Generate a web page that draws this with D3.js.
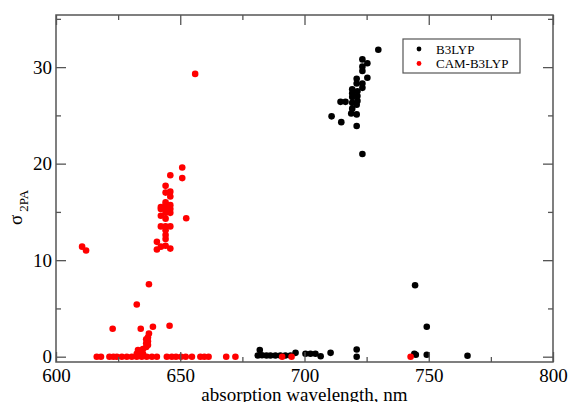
<!DOCTYPE html>
<html>
<head>
<meta charset="utf-8">
<script src="https://cdn.jsdelivr.net/npm/d3@7"></script>
<style>
  body { margin: 0; background: #fff; }
  text { font-family: "Liberation Serif", "DejaVu Serif", serif; }
</style>
</head>
<body>
<div id="chart"></div>
<script>
// series names
const seriesNames = ["B3LYP", "CAM-B3LYP"];
const seriesColors = ["#000000", "#ff0000"];

// B3LYP points: [wavelength nm, sigma 2PA]
const b3lyp = [
  [681.2, 0.13], [682.0, 0.7], [682.9, 0.15], [684.7, 0.13], [686.3, 0.13], [688.3, 0.13],
  [690.3, 0.13], [692.3, 0.13], [694.4, 0.13], [696.4, 0.4], [700.4, 0.3], [702.4, 0.3],
  [704.4, 0.3], [706.5, 0.05], [710.5, 0.4], [721.0, 0.75], [721.0, 0.0], [744.2, 0.3],
  [744.8, 0.2], [749.2, 0.2], [765.6, 0.1], [749.2, 3.1], [744.5, 7.4],
  [729.7, 31.8], [723.3, 30.8], [725.3, 30.4], [723.3, 30.05], [723.3, 29.6], [725.3, 28.9],
  [721.0, 28.8], [721.0, 28.3], [723.3, 28.3], [723.3, 27.85], [719.2, 27.7], [719.2, 27.3],
  [719.2, 26.9], [721.3, 27.5], [721.3, 27.0], [721.3, 26.5], [714.5, 26.4], [716.5, 26.4],
  [719.2, 26.3], [721.0, 26.1], [719.2, 25.7], [718.8, 25.2], [721.0, 25.1], [710.9, 24.9],
  [714.8, 24.3], [721.0, 23.9], [723.3, 21.0]
];

// CAM-B3LYP points: [wavelength nm, sigma 2PA]
const camb3lyp = [
  [616.4, 0], [618.1, 0], [621.5, 0], [623.1, 0], [624.5, 0], [626.5, 0], [628.5, 0],
  [630.5, 0], [632.5, 0], [634.5, 0], [636.5, 0], [638.6, 0], [640.6, 0], [644.6, 0],
  [646.6, 0], [648.3, 0], [650.3, 0], [652.2, 0], [654.7, 0], [658.1, 0], [659.7, 0],
  [661.4, 0], [668.5, 0], [672.2, 0], [691.0, 0], [694.8, 0], [742.7, 0],
  [610.5, 11.4], [612.1, 11.0], [656.0, 29.3], [650.8, 19.6], [650.8, 18.5], [646.0, 18.8],
  [644.1, 17.7], [644.1, 17.0], [646.0, 17.1], [646.0, 16.6], [644.1, 16.0], [642.2, 15.5],
  [644.1, 15.7], [646.0, 15.7], [642.2, 15.3], [644.1, 15.3], [646.0, 15.3], [642.2, 14.6],
  [644.1, 14.9], [646.0, 14.9], [644.1, 14.3], [652.4, 14.35], [642.2, 13.5], [644.1, 13.5],
  [646.0, 13.5], [644.1, 13.1], [644.1, 12.6], [644.1, 12.2], [640.6, 11.9], [642.2, 11.4],
  [644.1, 11.5], [640.6, 11.1], [646.0, 11.2], [632.5, 5.4], [637.4, 7.5], [622.8, 2.9],
  [634.1, 2.9], [639.0, 3.1], [645.7, 3.2], [637.4, 2.4], [637.0, 2.0], [636.3, 1.8],
  [637.0, 1.6], [636.3, 1.4], [637.0, 1.2], [636.3, 1.0], [635.0, 0.8], [633.0, 0.7],
  [634.0, 0.5], [632.5, 0.3], [635.0, 0.3], [633.5, 0.2]
];

const xMajor = [600, 650, 700, 750, 800];
const xMinor = [625, 675, 725, 775];
const yMajor = [0, 10, 20, 30];
const yMinor = [5, 15, 25, 35];

const width = 570, height = 402;
const margin = { left: 56, right: 17, top: 15, bottom: 40 };
const innerW = width - margin.left - margin.right;
const innerH = height - margin.top - margin.bottom;

const svg = d3.select("#chart").append("svg")
  .attr("width", width).attr("height", height);

const x = d3.scaleLinear().domain([600, 800]).range([0, innerW]);
const y = d3.scaleLinear().domain([-0.55, 35.4]).range([innerH, 0]);

const g = svg.append("g").attr("transform", `translate(${margin.left},${margin.top})`);

const axisColor = "#555";
const serif = "'Liberation Serif', 'DejaVu Serif', serif";

// points (drawn first, frame on top)
const all = [b3lyp, camb3lyp];
all.forEach((pts, i) => {
  g.append("g").selectAll("circle")
    .data(pts)
    .join("circle")
    .attr("cx", d => x(d[0]))
    .attr("cy", d => y(d[1]))
    .attr("r", 3.3)
    .attr("fill", seriesColors[i]);
});

// helper to style an axis group
function style(sel) {
  sel.attr("font-family", serif).attr("font-size", 19);
  sel.select(".domain").remove();
  sel.selectAll("line").attr("stroke", axisColor).attr("stroke-width", 1.3);
  sel.selectAll("text").attr("fill", "#000");
}

// bottom
g.append("g").attr("transform", `translate(0,${innerH})`)
  .call(d3.axisBottom(x).tickValues(xMajor).tickSize(-10).tickPadding(7).tickFormat(d3.format("d")))
  .call(style);
g.append("g").attr("transform", `translate(0,${innerH})`)
  .call(d3.axisBottom(x).tickValues(xMinor).tickSize(-5).tickFormat(""))
  .call(style);
// top
g.append("g")
  .call(d3.axisTop(x).tickValues(xMajor).tickSize(-10).tickFormat(""))
  .call(style);
g.append("g")
  .call(d3.axisTop(x).tickValues(xMinor).tickSize(-5).tickFormat(""))
  .call(style);
// left
g.append("g")
  .call(d3.axisLeft(y).tickValues(yMajor).tickSize(-10).tickPadding(4).tickFormat(d3.format("d")))
  .call(style);
g.append("g")
  .call(d3.axisLeft(y).tickValues(yMinor).tickSize(-5).tickFormat(""))
  .call(style);
// right
g.append("g").attr("transform", `translate(${innerW},0)`)
  .call(d3.axisRight(y).tickValues(yMajor).tickSize(-10).tickFormat(""))
  .call(style);
g.append("g").attr("transform", `translate(${innerW},0)`)
  .call(d3.axisRight(y).tickValues(yMinor).tickSize(-5).tickFormat(""))
  .call(style);

// frame
g.append("rect")
  .attr("width", innerW).attr("height", innerH)
  .attr("fill", "none").attr("stroke", axisColor).attr("stroke-width", 1.5);

// x axis title
svg.append("text")
  .attr("x", margin.left + innerW / 2)
  .attr("y", 401)
  .attr("text-anchor", "middle")
  .style("font-size", "19px")
  .text("absorption wavelength, nm");

// y axis title: sigma with subscript 2PA
const yt = svg.append("text")
  .attr("transform", `translate(22,225) rotate(-90)`)
  .style("font-size", "19px");
yt.append("tspan").text("σ");
yt.append("tspan").attr("dy", 6).attr("dx", 3).style("font-size", "13px").text("2PA");

// legend
const legend = svg.append("g").attr("transform", "translate(403,39)");
legend.append("rect")
  .attr("width", 117).attr("height", 34)
  .attr("fill", "#fff").attr("stroke", axisColor).attr("stroke-width", 1.2);
seriesNames.forEach((name, i) => {
  legend.append("circle")
    .attr("cx", 16).attr("cy", 10 + i * 14.5)
    .attr("r", 2.4).attr("fill", seriesColors[i]);
  legend.append("text")
    .attr("x", 33).attr("y", 14.5 + i * 14.5)
    .style("font-size", "13px")
    .text(name);
});
</script>
</body>
</html>
